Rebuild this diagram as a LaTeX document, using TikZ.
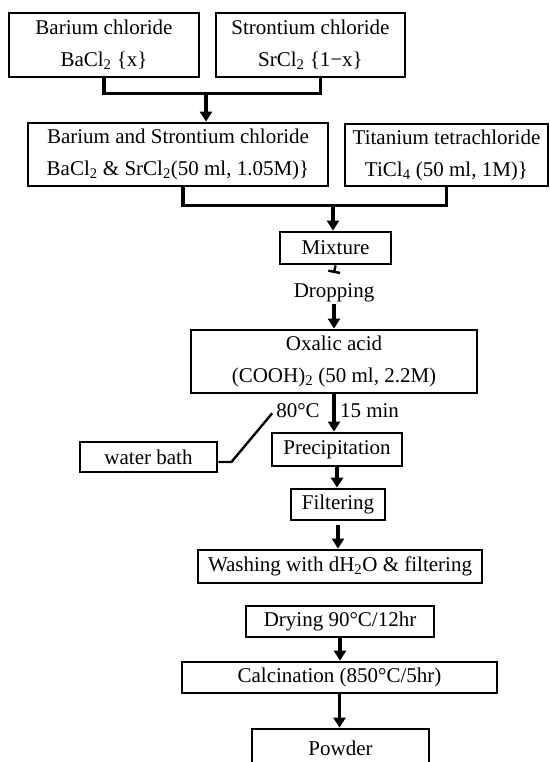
\documentclass[tikz,border=0pt]{standalone}
\usepackage{fontspec}
\setmainfont{Liberation Serif}
\usepackage{tikz}
\usetikzlibrary{arrows.meta}

\begin{document}
\begin{tikzpicture}[x=1pt,y=-1pt,
  box/.style={draw,line width=2.8pt,align=center,inner sep=0pt,
              font=\fontsize{21}{32}\selectfont},
  note/.style={inner sep=2pt,font=\fontsize{21}{32}\selectfont},
  link/.style={line width=3.2pt},
  arrow/.style={-{Triangle[length=10pt,width=12pt]},line width=3.2pt}
]
\clip (0,0) rectangle (549,762);

% Starting chlorides.
\node[box,minimum width=190,minimum height=64] (bacl) at (104,45)
  {Barium chloride\\BaCl\textsubscript{2} \{x\}};
\node[box,minimum width=189,minimum height=64] (srcl) at (310.5,45)
  {Strontium chloride\\SrCl\textsubscript{2} \{1−x\}};
\node[box,minimum width=300,minimum height=63] (basr) at (178,154.5)
  {Barium and Strontium chloride\\
   BaCl\textsubscript{2} \& SrCl\textsubscript{2}(50 ml, 1.05M)\}};
\node[box,minimum width=203,minimum height=62] (ticl) at (446.5,155)
  {Titanium tetrachloride\\TiCl\textsubscript{4} (50 ml, 1M)\}};

% Mixing with oxalic acid.
\node[box,minimum width=111,minimum height=32] (mix) at (335.5,248) {Mixture};
\node[note] (drop) at (334,292.5) {Dropping};
\node[box,minimum width=286,minimum height=63] (oxa) at (334,361.5)
  {Oxalic acid\\(COOH)\textsubscript{2} (50 ml, 2.2M)};
\node[note] (temp) at (298,411) {80°C};
\node[note] (time) at (369.5,411) {15 min};
\node[box,minimum width=137,minimum height=30] (bath) at (148.5,457) {water bath};

% Recovery of the powder.
\node[box,minimum width=130,minimum height=33] (prec) at (337,449.5) {Precipitation};
\node[box,minimum width=94,minimum height=31] (filt) at (338,504.5) {Filtering};
\node[box,minimum width=284,minimum height=33] (wash) at (340,566.5)
  {Washing with dH\textsubscript{2}O \& filtering};
\node[box,minimum width=188,minimum height=31] (dry) at (340,621.5) {Drying 90°C/12hr};
\node[box,minimum width=315,minimum height=31] (calc) at (339.5,677.5)
  {Calcination (850°C/5hr)};
\node[box,minimum width=177,minimum height=38] (powder) at (340.5,748) {Powder};

\coordinate (j1) at (206,92);
\coordinate (j2) at (333,204);
\coordinate (tick) at (334,273);

\draw[link] (bacl.south) -- ++(0,15) -| ([xshift=10pt]srcl.south);
\draw[arrow] (j1) -- (j1 |- basr.north);
\draw[link] ([xshift=5pt]basr.south) -- ++(0,18) -| (ticl.south);
\draw[arrow] (j2) -- (j2 |- mix.north);
\draw[line width=2.4pt,-{Bar[width=12pt]}] (mix.south) -- (tick);
\draw[arrow] (drop.south) -- (oxa.north);
\draw[arrow] (oxa.south) -- (oxa.south |- prec.north);
\draw[line width=2.4pt,shorten >=3pt] ([yshift=-5pt]bath.east) -- ++(13,0) -- (temp.west);
\draw[arrow] (prec.south) -- (prec.south |- filt.north);
\draw[arrow,shorten <=4pt] (filt.south) -- (filt.south |- wash.north);
\draw[arrow] (dry.south) -- (dry.south |- calc.north);
\draw[arrow] (calc.south) -- (calc.south |- powder.north);
\end{tikzpicture}
\end{document}
